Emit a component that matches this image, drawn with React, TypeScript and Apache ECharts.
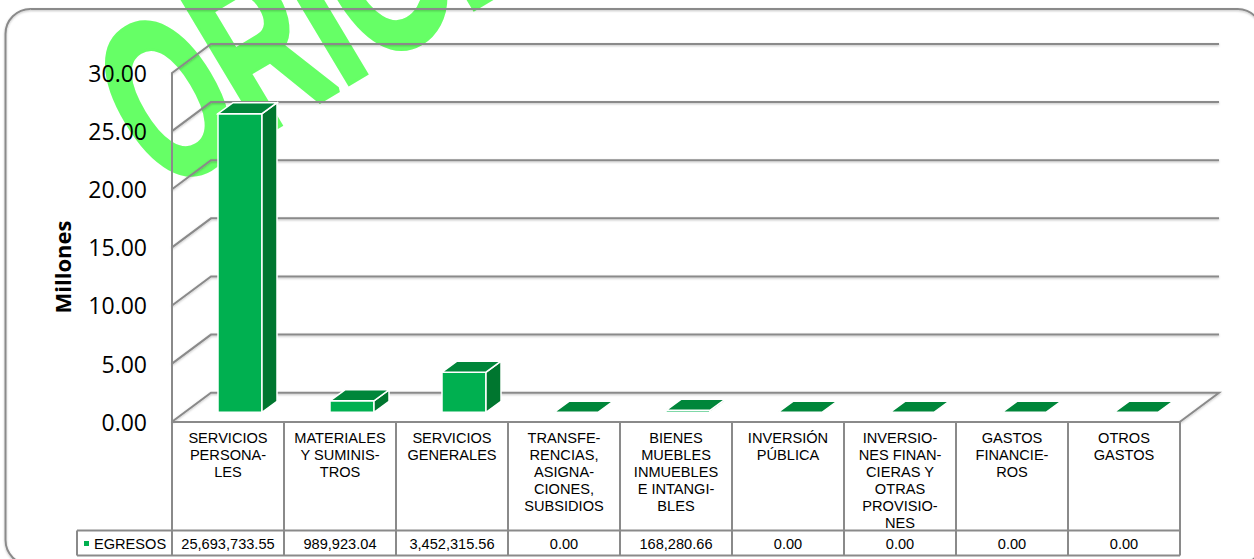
import React, { useEffect, useRef } from "react";
import * as echarts from "echarts";

const categories = [
  "SERVICIOS\nPERSONA-\nLES",
  "MATERIALES\nY SUMINIS-\nTROS",
  "SERVICIOS\nGENERALES",
  "TRANSFE-\nRENCIAS,\nASIGNA-\nCIONES,\nSUBSIDIOS",
  "BIENES\nMUEBLES\nINMUEBLES\nE INTANGI-\nBLES",
  "INVERSIÓN\nPÚBLICA",
  "INVERSIO-\nNES FINAN-\nCIERAS Y\nOTRAS\nPROVISIO-\nNES",
  "GASTOS\nFINANCIE-\nROS",
  "OTROS\nGASTOS",
];
const egresos = [25693733.55, 989923.04, 3452315.56, 0, 168280.66, 0, 0, 0, 0];
const tableLabels = ["25,693,733.55", "989,923.04", "3,452,315.56", "0.00", "168,280.66", "0.00", "0.00", "0.00", "0.00"];
const axisTicks = [0, 5000000, 10000000, 15000000, 20000000, 25000000, 30000000];

const GRAY = "#8a8a8a";
const DEPTH_X = 39;
const DEPTH_Y = 29;
const TABLE_MID = 530.5;
const TABLE_BOTTOM = 555.5;
const LINE_SHADOW = { shadowBlur: 2, shadowColor: "rgba(0,0,0,0.25)", shadowOffsetY: 1 };

export default function App() {
  const ref = useRef<HTMLDivElement>(null);
  useEffect(() => {
    document.body.style.margin = "0";
    document.body.style.overflow = "hidden";
    const chart = echarts.init(ref.current!, null, { renderer: "svg" });

    const wallItem = (params: any, api: any) => {
      const v = api.value(0);
      const p = api.coord([0, v]);
      const band = api.size([1, 0])[0];
      const left = p[0] - band / 2;
      const right = left + band * categories.length;
      const y = p[1];
      const pts: number[][] = [[left, y], [left + DEPTH_X, y - DEPTH_Y], [right + DEPTH_X, y - DEPTH_Y]];
      if (v === 0) pts.push([right, y]);
      return {
        type: "polyline",
        shape: { points: pts },
        style: { fill: "none", stroke: GRAY, lineWidth: 2, ...LINE_SHADOW },
      };
    };

    const barItem = (params: any, api: any) => {
      const idx = api.value(0);
      const base = api.coord([idx, 0]);
      const top = api.coord([idx, api.value(1)]);
      const x0 = base[0] + 12 - 22;
      const x1 = base[0] + 12 + 22;
      const yb = base[1] - 9.4;
      const yt = top[1] - 9.4;
      const dx = 15;
      const dy = 11;
      const stroke = { stroke: "#ffffff", lineWidth: 1.5 };
      return {
        type: "group",
        children: [
          { type: "polygon", shape: { points: [[x0, yt], [x1, yt], [x1, yb], [x0, yb]] }, style: { fill: "#00B050", ...stroke } },
          { type: "polygon", shape: { points: [[x1, yt], [x1 + dx, yt - dy], [x1 + dx, yb - dy], [x1, yb]] }, style: { fill: "#00762F", ...stroke } },
          { type: "polygon", shape: { points: [[x0, yt], [x0 + dx, yt - dy], [x1 + dx, yt - dy], [x1, yt]] }, style: { fill: "#00863A", ...stroke } },
        ],
      };
    };

    const lineEl = (x1: number, y1: number, x2: number, y2: number) => ({
      type: "line",
      shape: { x1, y1, x2, y2 },
      style: { stroke: GRAY, lineWidth: 2 },
    });

    const tableItem = (params: any, api: any) => {
      const idx = api.value(0);
      const p = api.coord([idx, 0]);
      const band = api.size([1, 0])[0];
      const left = p[0] - band / 2;
      const right = p[0] + band / 2;
      const children: any[] = [
        lineEl(right, p[1], right, TABLE_BOTTOM),
        lineEl(left, TABLE_MID, right, TABLE_MID),
        lineEl(left, TABLE_BOTTOM, right, TABLE_BOTTOM),
        {
          type: "text",
          style: {
            x: p[0],
            y: (TABLE_MID + TABLE_BOTTOM) / 2 + 0.5,
            text: tableLabels[idx],
            fill: "#000000",
            font: "14.6px 'Liberation Sans'",
            textAlign: "center",
            textVerticalAlign: "middle",
          },
        },
      ];
      if (idx === 0) {
        children.push(
          lineEl(left, p[1], left, TABLE_BOTTOM),
          lineEl(77, TABLE_MID, left, TABLE_MID),
          lineEl(77, TABLE_BOTTOM, left, TABLE_BOTTOM),
          lineEl(77, TABLE_MID, 77, TABLE_BOTTOM)
        );
      }
      return { type: "group", children };
    };

    chart.setOption({
      animation: false,
      backgroundColor: "#ffffff",
      grid: { left: 172, right: 74, top: 73, height: 348.7, containLabel: false },
      legend: {
        show: true,
        data: [{ name: "EGRESOS", icon: "rect" }],
        left: 84,
        top: 536,
        itemWidth: 5,
        itemHeight: 5,
        textStyle: { fontFamily: "Liberation Sans", fontSize: 14.6, color: "#000000", padding: [1, 0, 0, 0] },
        padding: 0,
      },
      xAxis: {
        type: "category",
        data: categories,
        axisLine: { show: true, lineStyle: { color: GRAY, width: 2 } },
        axisTick: { show: false },
        axisLabel: {
          interval: 0,
          margin: 8,
          hideOverlap: false,
          verticalAlign: "top",
          fontFamily: "Liberation Sans",
          fontSize: 14.6,
          lineHeight: 17,
          color: "#000000",
        },
        z: 4,
      },
      yAxis: {
        type: "value",
        min: 0,
        max: 30000000,
        interval: 5000000,
        axisLine: { show: true, lineStyle: { color: GRAY, width: 2 } },
        axisTick: { show: false },
        splitLine: { show: false },
        axisLabel: {
          margin: 25,
          fontFamily: "Open Sans",
          fontSize: 23,
          color: "#000000",
          formatter: (v: number) => (v / 1000000).toFixed(2),
        },
        z: 4,
      },
      graphic: {
        elements: [
          {
            type: "text",
            x: 181,
            y: 224,
            rotation: 0.54,
            scaleX: 0.6,
            z: 0,
            style: {
              text: "ORIGINAL",
              fill: "#66FF66",
              stroke: "#66FF66",
              lineWidth: 6,
              font: "bold 230px 'Liberation Sans'",
              textAlign: "left",
              textVerticalAlign: "bottom",
            },
          },
          {
            type: "rect",
            shape: { x: 5.5, y: 9, width: 1257, height: 556, r: 25 },
            z: 1,
            style: { fill: "none", stroke: GRAY, lineWidth: 2, ...LINE_SHADOW },
          },
          {
            type: "text",
            x: 62,
            y: 267,
            rotation: Math.PI / 2,
            z: 5,
            style: {
              text: "Millones",
              fill: "#000000",
              font: "bold 22px 'Open Sans'",
              textAlign: "center",
              textVerticalAlign: "middle",
            },
          },
        ],
      },
      series: [
        {
          type: "custom",
          name: "paredes",
          silent: true,
          clip: false,
          z: 2,
          renderItem: wallItem,
          encode: { x: 1, y: 0 },
          data: axisTicks.map((v) => [v, 0]),
        },
        {
          type: "custom",
          name: "EGRESOS",
          clip: false,
          z: 3,
          itemStyle: { color: "#00B050" },
          renderItem: barItem,
          encode: { x: 0, y: 1 },
          data: egresos.map((v, i) => [i, v]),
        },
        {
          type: "custom",
          name: "tabla",
          silent: true,
          clip: false,
          z: 4,
          renderItem: tableItem,
          encode: { x: 0, y: 1 },
          data: categories.map((c, i) => [i, 0]),
        },
      ],
    });
    return () => chart.dispose();
  }, []);
  return <div ref={ref} style={{ position: "absolute", left: 0, top: 0, width: 1254, height: 559 }} />;
}
